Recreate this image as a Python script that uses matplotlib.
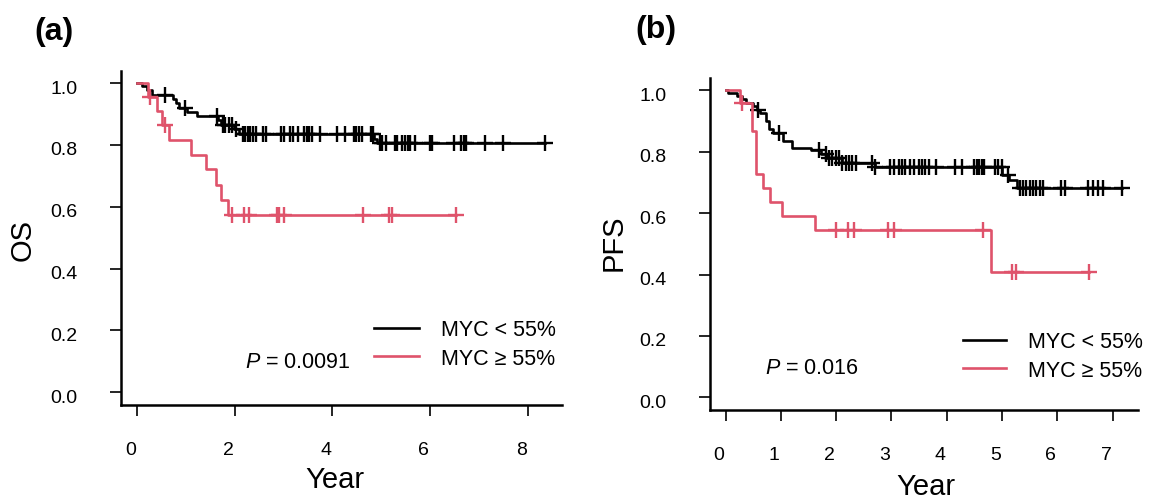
import numpy as np
import matplotlib
matplotlib.use('Agg')
import matplotlib.pyplot as plt
from matplotlib.transforms import ScaledTranslation

plt.rcParams['font.family'] = ['Liberation Sans', 'DejaVu Sans']
plt.rcParams['mathtext.fontset'] = 'custom'
plt.rcParams['mathtext.it'] = 'Liberation Sans:italic'
plt.rcParams['mathtext.rm'] = 'Liberation Sans'

RED = '#DF536B'

# ---- (a) overall survival ----
os_low_t = [0, 0.10, 0.21, 0.31, 0.73, 0.79, 0.86, 1.03, 1.22, 1.66, 1.72, 1.98, 2.09, 4.85, 4.92, 8.36]
os_low_s = [1.0, 0.99, 0.977, 0.963, 0.948, 0.934, 0.921, 0.908, 0.894, 0.879, 0.866, 0.851, 0.834, 0.819, 0.805, 0.805]
os_low_cens = [0.58, 0.98, 1.63, 1.75, 1.81, 1.88, 1.94, 2.02, 2.16, 2.22, 2.27, 2.32, 2.37, 2.43,
               2.58, 2.65, 2.95, 3.00, 3.14, 3.19, 3.30, 3.42, 3.48, 3.53, 3.59, 3.74, 4.09, 4.25,
               4.44, 4.49, 4.55, 4.60, 4.79, 4.84, 4.97, 5.02, 5.09, 5.27, 5.33, 5.43, 5.48, 5.54,
               5.59, 5.68, 5.99, 6.04, 6.49, 6.64, 6.69, 6.74, 7.13, 7.50, 8.36]

os_high_t = [0, 0.22, 0.40, 0.52, 0.65, 1.11, 1.41, 1.61, 1.71, 1.86, 6.52]
os_high_s = [1.0, 0.955, 0.909, 0.864, 0.816, 0.769, 0.721, 0.672, 0.623, 0.575, 0.575]
os_high_cens = [0.26, 0.58, 1.94, 2.18, 2.29, 2.87, 2.90, 3.00, 4.62, 5.15, 5.21, 6.52]

# ---- (b) progression-free survival ----
pfs_low_t = [0, 0.05, 0.20, 0.30, 0.37, 0.50, 0.57, 0.62, 0.73, 0.79, 0.85, 1.03, 1.21, 1.54,
             1.72, 1.84, 2.11, 2.71, 5.00, 5.12, 5.27, 7.17]
pfs_low_s = [1.0, 0.99, 0.981, 0.971, 0.96, 0.948, 0.937, 0.927, 0.90, 0.873, 0.862, 0.834, 0.813,
             0.807, 0.791, 0.78, 0.764, 0.75, 0.725, 0.709, 0.681, 0.681]
pfs_low_cens = [0.58, 0.97, 1.69, 1.81, 1.87, 1.93, 1.99, 2.05, 2.11, 2.17, 2.23, 2.29, 2.35, 2.65,
                2.71, 2.98, 3.04, 3.13, 3.19, 3.25, 3.34, 3.40, 3.49, 3.55, 3.61, 3.67, 3.80, 4.15,
                4.27, 4.50, 4.54, 4.58, 4.63, 4.68, 4.87, 4.93, 4.99, 5.11, 5.32, 5.38, 5.44, 5.50,
                5.56, 5.62, 5.68, 5.74, 6.07, 6.13, 6.55, 6.64, 6.73, 6.82, 7.17]

pfs_high_t = [0, 0.26, 0.48, 0.55, 0.68, 0.81, 1.02, 1.62, 4.80, 6.58]
pfs_high_s = [1.0, 0.957, 0.867, 0.729, 0.682, 0.636, 0.592, 0.546, 0.409, 0.409]
pfs_high_cens = [0.30, 1.99, 2.21, 2.32, 2.94, 3.04, 4.66, 5.18, 5.25, 6.58]

labels = ['MYC < 55%', 'MYC \u2265 55%']


def surv_at(ts, ss, t):
    idx = np.searchsorted(ts, t, side='right') - 1
    return np.asarray(ss)[idx]


def km(ax, ts, ss, cens, color, label):
    ax.step(ts, ss, where='post', color=color, lw=1.9, label=label)
    ax.plot(cens, surv_at(ts, ss, cens), linestyle='none', marker='+',
            ms=12, mew=1.7, color=color)


W, H = 1153, 502
fig = plt.figure(figsize=(W / 100, H / 100), dpi=100)


def make_axes(l, r, t, b):
    return fig.add_axes([l / W, 1 - b / H, (r - l) / W, (b - t) / H])


panels = [
    dict(box=(120.7, 561.6, 71.7, 405.7), xlim=(-0.334, 8.69), xticks=[0, 2, 4, 6, 8],
         data=[(os_low_t, os_low_s, os_low_cens), (os_high_t, os_high_s, os_high_cens)],
         ylab='OS', ylab_xy=(23, 240), xlab_xy=(335, 480), tag='(a)', tag_xy=(54, 32),
         ptxt='$P$ = 0.0091', p_xy=(245, 363), leg_xy=(374, 345), hl=2.1),
    dict(box=(709.7, 1138, 79, 410.7), xlim=(-0.287, 7.457), xticks=[0, 1, 2, 3, 4, 5, 6, 7],
         data=[(pfs_low_t, pfs_low_s, pfs_low_cens), (pfs_high_t, pfs_high_s, pfs_high_cens)],
         ylab='PFS', ylab_xy=(614, 243), xlab_xy=(926, 487), tag='(b)', tag_xy=(656, 30),
         ptxt='$P$ = 0.016', p_xy=(765, 368), leg_xy=(963, 357), hl=2.0),
]

for p in panels:
    ax = make_axes(*p['box'])
    for (ts, ss, cens), color, lab in zip(p['data'], ['black', RED], labels):
        km(ax, ts, ss, cens, color, lab)
    ax.set_xlim(*p['xlim'])
    ax.set_ylim(-0.04, 1.04)
    for s in ['top', 'right']:
        ax.spines[s].set_visible(False)
    for s in ['left', 'bottom']:
        ax.spines[s].set_linewidth(1.8)
    ax.set_xticks(p['xticks'])
    ax.set_yticks([0, 0.2, 0.4, 0.6, 0.8, 1.0])
    ax.set_yticklabels(['0.0', '0.2', '0.4', '0.6', '0.8', '1.0'])
    ax.tick_params(axis='y', length=8, width=1.2, pad=23, labelsize=14)
    ax.tick_params(axis='x', length=8, width=1.2, pad=18, labelsize=14)
    off_x = ScaledTranslation(-6.5 / 100, 0, fig.dpi_scale_trans)
    for lab in ax.get_xticklabels():
        lab.set_transform(lab.get_transform() + off_x)
    off_y = ScaledTranslation(0, -3 / 100, fig.dpi_scale_trans)
    for lab in ax.get_yticklabels():
        lab.set_transform(lab.get_transform() + off_y)

    ax.set_xlabel('Year', fontsize=21)
    ax.xaxis.set_label_coords(p['xlab_xy'][0] / W, 1 - p['xlab_xy'][1] / H, transform=fig.transFigure)
    ax.xaxis.label.set_va('center')
    ax.set_ylabel(p['ylab'], fontsize=21)
    ax.yaxis.set_label_coords(p['ylab_xy'][0] / W, 1 - p['ylab_xy'][1] / H, transform=fig.transFigure)
    ax.yaxis.label.set_va('center')

    fig.text(p['tag_xy'][0] / W, 1 - p['tag_xy'][1] / H, p['tag'], fontsize=23,
             fontweight='bold', ha='center', va='center')
    fig.text(p['p_xy'][0] / W, 1 - p['p_xy'][1] / H, p['ptxt'], fontsize=15.5,
             ha='left', va='center')
    ax.legend(loc='center left', bbox_to_anchor=(p['leg_xy'][0] / W, 1 - p['leg_xy'][1] / H),
              bbox_transform=fig.transFigure, frameon=False, fontsize=15.5,
              handlelength=p['hl'], handletextpad=1.0, labelspacing=0.36,
              borderpad=0, borderaxespad=0)

fig.savefig('out.png', dpi=100)
